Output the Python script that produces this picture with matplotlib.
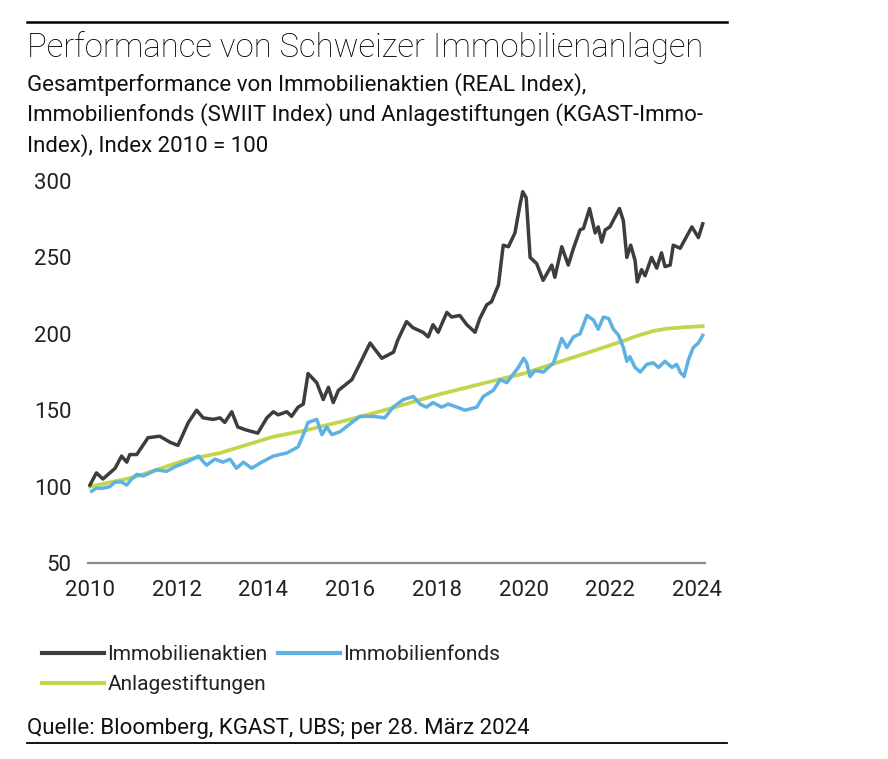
import matplotlib
matplotlib.use("Agg")
import matplotlib.pyplot as plt
from matplotlib.lines import Line2D

plt.rcParams['font.family'] = ['Roboto', 'DejaVu Sans']

# Immobilienaktien (REAL Index)
aktien_t = [2010.00, 2010.15, 2010.30, 2010.58, 2010.73, 2010.85, 2010.92, 2011.08,
            2011.34, 2011.61, 2011.85, 2012.03, 2012.27, 2012.46, 2012.61, 2012.84,
            2013.00, 2013.11, 2013.27, 2013.41, 2013.61, 2013.87, 2014.08, 2014.23,
            2014.34, 2014.54, 2014.65, 2014.80, 2014.92, 2015.03, 2015.23, 2015.38,
            2015.50, 2015.61, 2015.73, 2016.04, 2016.27, 2016.46, 2016.73, 2017.00,
            2017.10, 2017.30, 2017.45, 2017.68, 2017.80, 2017.91, 2018.03, 2018.23,
            2018.34, 2018.53, 2018.69, 2018.88, 2018.99, 2019.15, 2019.26, 2019.42,
            2019.53, 2019.65, 2019.80, 2019.92, 2019.98, 2020.06, 2020.15, 2020.30,
            2020.45, 2020.65, 2020.72, 2020.88, 2021.03, 2021.15, 2021.30, 2021.38,
            2021.52, 2021.65, 2021.72, 2021.80, 2021.88, 2021.99, 2022.21, 2022.30,
            2022.38, 2022.47, 2022.57, 2022.62, 2022.72, 2022.80, 2022.95, 2023.07,
            2023.18, 2023.26, 2023.38, 2023.45, 2023.61, 2023.88, 2024.03, 2024.13]
aktien_v = [101, 109, 105, 112, 120, 116, 121, 121,
            132, 133, 129, 127, 142, 150, 145, 144,
            145, 142, 149, 139, 137, 135, 145, 149,
            147, 149, 146, 152, 154, 174, 168, 157,
            165, 155, 163, 170, 183, 194, 184, 188,
            196, 208, 204, 201, 198, 206, 201, 214,
            211, 212, 206, 201, 210, 219, 221, 232,
            258, 257, 266, 285, 293, 289, 250, 246,
            235, 245, 237, 257, 245, 256, 268, 269,
            282, 266, 270, 260, 268, 270, 282, 274,
            250, 258, 248, 234, 242, 238, 250, 243,
            253, 244, 245, 258, 256, 270, 263, 272]

# Immobilienfonds (SWIIT Index)
fonds_t = [2010.04, 2010.15, 2010.30, 2010.46, 2010.58, 2010.73, 2010.85, 2010.96,
           2011.08, 2011.23, 2011.54, 2011.77, 2011.96, 2012.23, 2012.50, 2012.69,
           2012.88, 2013.07, 2013.23, 2013.38, 2013.54, 2013.73, 2013.96, 2014.23,
           2014.54, 2014.80, 2014.92, 2015.03, 2015.23, 2015.35, 2015.46, 2015.58,
           2015.77, 2016.04, 2016.23, 2016.54, 2016.80, 2016.99, 2017.23, 2017.46,
           2017.61, 2017.76, 2017.91, 2018.11, 2018.26, 2018.46, 2018.65, 2018.92,
           2019.07, 2019.30, 2019.46, 2019.61, 2019.77, 2019.88, 2020.00, 2020.07,
           2020.15, 2020.26, 2020.46, 2020.57, 2020.69, 2020.88, 2021.00, 2021.15,
           2021.30, 2021.46, 2021.61, 2021.72, 2021.84, 2021.96, 2022.07, 2022.19,
           2022.30, 2022.38, 2022.45, 2022.57, 2022.69, 2022.84, 2022.99, 2023.11,
           2023.26, 2023.42, 2023.53, 2023.61, 2023.70, 2023.80, 2023.91, 2024.03,
           2024.13]
fonds_v = [97, 99, 99, 100, 103, 103, 101, 105,
           108, 107, 111, 110, 113, 116, 120, 114,
           118, 116, 118, 112, 116, 112, 116, 120,
           122, 126, 134, 142, 144, 134, 139, 134,
           136, 142, 146, 146, 145, 152, 157, 159,
           154, 152, 155, 152, 154, 152, 150, 152,
           159, 163, 170, 168, 174, 178, 184, 181,
           172, 176, 175, 178, 181, 197, 191, 198,
           200, 212, 209, 203, 211, 210, 203, 199,
           191, 182, 185, 178, 175, 180, 181, 178,
           182, 178, 180, 175, 172, 183, 191, 194,
           199]

# Anlagestiftungen (KGAST-Immo-Index)
stift_t = [2010.00, 2011.00, 2012.23, 2013.00, 2014.22, 2015.00, 2016.00, 2016.99,
           2018.00, 2019.38, 2020.00, 2021.30, 2022.22, 2022.60, 2022.98, 2023.30,
           2023.70, 2024.13]
stift_v = [100, 106, 117.6, 122, 132.6, 137, 144, 151.6,
           160, 169.8, 174, 186, 194.6, 198.5, 201.8, 203.4,
           204.3, 205]

x_ticks = [2010, 2012, 2014, 2016, 2018, 2020, 2022, 2024]
y_ticks = [50, 100, 150, 200, 250, 300]

c_aktien = '#3d3d3d'
c_fonds = '#5eb1e0'
c_stift = '#c3d64b'

fig = plt.figure(figsize=(8.88, 7.59), dpi=100)
ax = fig.add_axes([0.099, 0.2582, 0.695, 0.5033])

ax.plot(stift_t, stift_v, color=c_stift, lw=2.7, solid_joinstyle='round', zorder=2)
ax.plot(fonds_t, fonds_v, color=c_fonds, lw=2.5, solid_joinstyle='round', zorder=3)
ax.plot(aktien_t, aktien_v, color=c_aktien, lw=2.5, solid_joinstyle='round', zorder=4)

ax.set_xlim(2009.954, 2024.184)
ax.set_ylim(50, 300)
ax.set_xticks(x_ticks)
ax.set_yticks(y_ticks)
for s in ['top', 'right', 'left']:
    ax.spines[s].set_visible(False)
ax.spines['bottom'].set_color('#8a8a8a')
ax.spines['bottom'].set_linewidth(1.6)
ax.tick_params(length=0, labelsize=16, colors='#222222')
ax.tick_params(axis='y', pad=12)
ax.tick_params(axis='x', pad=12)

fig.text(0.030, 0.937, 'Performance von Schweizer Immobilienanlagen',
         fontsize=23.7, fontweight='light', color='#000000', va='center')
fig.text(0.030, 0.904,
         'Gesamtperformance von Immobilienaktien (REAL Index),\n'
         'Immobilienfonds (SWIIT Index) und Anlagestiftungen (KGAST-Immo-\n'
         'Index), Index 2010 = 100',
         fontsize=16, color='#111111', va='top', linespacing=1.42)

handles = [Line2D([], [], color=c_aktien, lw=3),
           Line2D([], [], color=c_stift, lw=3),
           Line2D([], [], color=c_fonds, lw=3)]
labels = ['Immobilienaktien', 'Anlagestiftungen', 'Immobilienfonds']
fig.legend(handles, labels, loc='upper left', bbox_to_anchor=(0.047, 0.150),
           bbox_transform=fig.transFigure, ncol=2, frameon=False, fontsize=15,
           handlelength=3.0, handletextpad=0.15, columnspacing=0.5,
           labelspacing=0.5, borderaxespad=0, borderpad=0,
           labelcolor='#222222')

fig.text(0.030, 0.040, 'Quelle: Bloomberg, KGAST, UBS; per 28. März 2024',
         fontsize=16, color='#111111', va='center')

fig.add_artist(Line2D([0.030, 0.819], [0.971, 0.971], color='black', lw=1.8,
                      transform=fig.transFigure))
fig.add_artist(Line2D([0.030, 0.819], [0.021, 0.021], color='black', lw=1.3,
                      transform=fig.transFigure))

fig.savefig('out.png', dpi=100)
